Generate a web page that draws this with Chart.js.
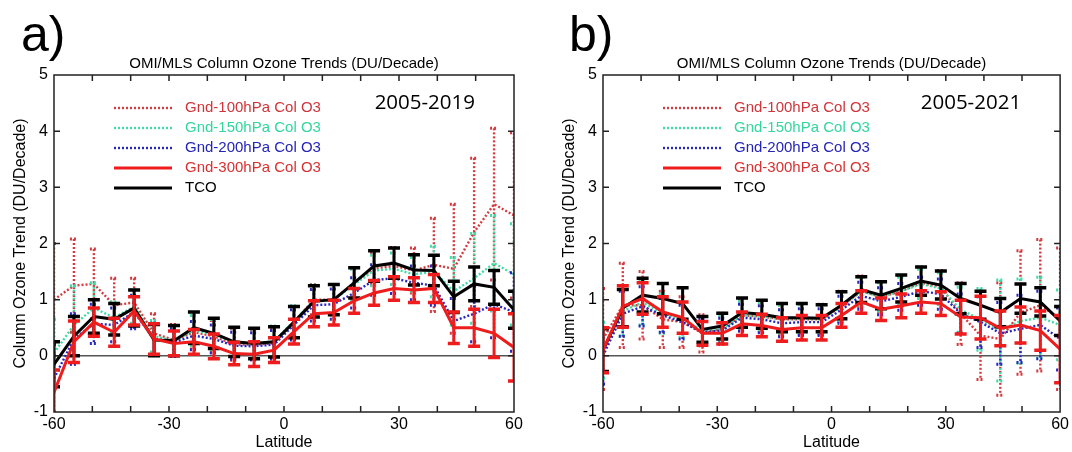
<!DOCTYPE html>
<html>
<head>
<meta charset="utf-8">
<script src="https://cdn.jsdelivr.net/npm/chart.js@4.4.1/dist/chart.umd.min.js"></script>
<style>
  body { margin: 0; background: #fff; width: 1072px; height: 452px; position: relative; overflow: hidden;
         font-family: "Liberation Sans", Arial, sans-serif; }
  .panel { position: absolute; top: 0; height: 452px; }
  .tag { position: absolute; top: 9px; font-size: 50px; line-height: 1; color: #000; }
</style>
</head>
<body>
<div class="tag" style="left:21px">a)</div>
<div class="tag" style="left:569px">b)</div>
<div class="panel" style="left:0;width:536px"><canvas id="chartA" width="536" height="452"></canvas></div>
<div class="panel" style="left:549px;width:523px"><canvas id="chartB" width="523" height="452"></canvas></div>
<script>
// latitude bin centres (deg)
const lat = [-60, -54.8, -49.6, -44.3, -39.1, -33.9, -28.7, -23.5, -18.3, -13.0, -7.8, -2.6,
             2.6, 7.8, 13.0, 18.3, 23.5, 28.7, 33.9, 39.1, 44.3, 49.6, 54.8, 60];
const latTicks = [-60, -30, 0, 30, 60];
const latMinorTicks = [-50, -40, -30, -20, -10, 0, 10, 20, 30, 40, 50];
const trendTicks = [-1, 0, 1, 2, 3, 4, 5];

const seriesNames = ["Gnd-100hPa Col O3", "Gnd-150hPa Col O3", "Gnd-200hPa Col O3", "Gnd-300hPa Col O3", "TCO"];

// 2005-2019 trends and 2-sigma errors (DU/decade)
const a100 = [1.00, 1.25, 1.28, 0.90, 0.95, 0.40, 0.28, 0.42, 0.35, 0.20, 0.20, 0.22, 0.60, 1.00, 1.00, 1.30, 1.55, 1.60, 1.52, 1.62, 1.55, 2.20, 2.70, 2.50];
const a100Err = [1.00, 0.83, 0.62, 0.48, 0.43, 0.35, 0.28, 0.30, 0.28, 0.28, 0.27, 0.28, 0.28, 0.27, 0.27, 0.27, 0.28, 0.33, 0.40, 0.83, 1.15, 1.32, 1.35, 1.47];
const a150 = [0.05, 0.55, 0.85, 0.68, 0.88, 0.35, 0.27, 0.45, 0.38, 0.24, 0.22, 0.26, 0.62, 0.98, 1.00, 1.27, 1.52, 1.55, 1.45, 1.50, 1.15, 1.38, 1.65, 1.45];
const a150Err = [0.60, 0.70, 0.45, 0.28, 0.30, 0.28, 0.27, 0.27, 0.27, 0.26, 0.26, 0.27, 0.27, 0.28, 0.27, 0.27, 0.27, 0.28, 0.30, 0.45, 0.60, 0.80, 0.85, 0.90];
const a200 = [-0.40, 0.30, 0.57, 0.55, 0.78, 0.30, 0.24, 0.36, 0.30, 0.18, 0.17, 0.20, 0.55, 0.90, 0.92, 1.12, 1.35, 1.38, 1.30, 1.25, 0.62, 0.75, 0.92, 0.78];
const a200Err = [0.60, 0.45, 0.35, 0.30, 0.30, 0.28, 0.25, 0.25, 0.25, 0.24, 0.24, 0.25, 0.27, 0.28, 0.27, 0.27, 0.27, 0.27, 0.30, 0.35, 0.40, 0.50, 0.60, 0.70];
const a300 = [-0.65, 0.25, 0.60, 0.42, 0.80, 0.30, 0.22, 0.25, 0.17, 0.04, 0.03, 0.10, 0.43, 0.75, 0.77, 0.98, 1.12, 1.20, 1.17, 1.20, 0.50, 0.50, 0.40, 0.15];
const a300Err = [0.40, 0.37, 0.25, 0.25, 0.25, 0.27, 0.22, 0.22, 0.22, 0.20, 0.22, 0.22, 0.22, 0.23, 0.22, 0.22, 0.22, 0.21, 0.22, 0.25, 0.28, 0.33, 0.43, 0.60];
const aTco = [-0.15, 0.35, 0.70, 0.65, 0.85, 0.28, 0.27, 0.50, 0.40, 0.25, 0.22, 0.25, 0.60, 0.97, 1.00, 1.30, 1.60, 1.65, 1.53, 1.52, 1.05, 1.28, 1.22, 0.82];
const aTcoErr = [0.40, 0.35, 0.30, 0.28, 0.32, 0.28, 0.27, 0.28, 0.27, 0.26, 0.27, 0.27, 0.28, 0.28, 0.27, 0.27, 0.27, 0.27, 0.27, 0.27, 0.28, 0.30, 0.30, 0.33];

// 2005-2021 trends and errors
const b100 = [0.30, 0.90, 0.90, 0.65, 0.60, 0.40, 0.48, 0.72, 0.70, 0.65, 0.65, 0.65, 0.88, 1.15, 1.05, 1.15, 1.30, 1.22, 0.75, 0.36, 0.30, 0.77, 0.90, 0.66];
const b100Err = [0.90, 0.75, 0.60, 0.50, 0.45, 0.33, 0.28, 0.28, 0.28, 0.28, 0.27, 0.27, 0.27, 0.27, 0.27, 0.27, 0.28, 0.30, 0.55, 0.78, 1.00, 1.10, 1.17, 1.26];
const b150 = [0.10, 0.80, 0.95, 0.75, 0.65, 0.45, 0.48, 0.72, 0.70, 0.65, 0.66, 0.65, 0.88, 1.15, 1.05, 1.15, 1.28, 1.20, 0.82, 0.65, 0.45, 0.62, 0.68, 0.55];
const b150Err = [0.50, 0.45, 0.40, 0.35, 0.32, 0.25, 0.24, 0.25, 0.25, 0.25, 0.25, 0.25, 0.25, 0.25, 0.25, 0.25, 0.26, 0.28, 0.40, 0.55, 0.90, 0.75, 0.72, 0.62];
const b200 = [0.00, 0.75, 0.88, 0.72, 0.60, 0.42, 0.45, 0.68, 0.65, 0.58, 0.60, 0.60, 0.82, 1.07, 0.97, 1.05, 1.15, 1.10, 0.75, 0.60, 0.40, 0.48, 0.55, 0.30];
const b200Err = [0.50, 0.40, 0.35, 0.30, 0.30, 0.24, 0.22, 0.24, 0.24, 0.24, 0.24, 0.24, 0.24, 0.24, 0.24, 0.24, 0.25, 0.27, 0.35, 0.45, 0.55, 0.60, 0.60, 0.55];
const b300 = [0.10, 0.88, 1.02, 0.78, 0.68, 0.40, 0.40, 0.57, 0.54, 0.47, 0.50, 0.50, 0.72, 0.96, 0.83, 0.89, 0.96, 0.93, 0.69, 0.68, 0.49, 0.55, 0.45, 0.12];
const b300Err = [0.40, 0.37, 0.28, 0.27, 0.28, 0.21, 0.19, 0.21, 0.20, 0.21, 0.22, 0.22, 0.21, 0.20, 0.20, 0.21, 0.20, 0.21, 0.30, 0.38, 0.31, 0.32, 0.35, 0.60];
const bTco = [0.10, 0.85, 1.08, 1.02, 0.93, 0.47, 0.53, 0.77, 0.74, 0.68, 0.68, 0.67, 0.90, 1.18, 1.08, 1.20, 1.33, 1.26, 1.02, 0.90, 0.77, 1.02, 0.96, 0.62];
const bTcoErr = [0.38, 0.33, 0.30, 0.27, 0.28, 0.23, 0.23, 0.26, 0.25, 0.25, 0.25, 0.24, 0.24, 0.23, 0.24, 0.24, 0.25, 0.25, 0.27, 0.25, 0.25, 0.26, 0.25, 0.26];

const styles = [
  { color: "#d43a3e", text: "#d0343a", dash: [2, 2], width: 2.4, cap: 8, order: 4 },
  { color: "#3edca6", text: "#33d69c", dash: [2, 2], width: 2.4, cap: 8, order: 3 },
  { color: "#2626c2", text: "#2424b8", dash: [2, 2], width: 2.4, cap: 8, order: 2 },
  { color: "#ee1c1c", text: "#d83030", dash: [], width: 3, cap: 12, order: 0 },
  { color: "#000000", text: "#000000", dash: [], width: 3, cap: 12, order: 1 },
];

const sans = '"Liberation Sans", Arial, sans-serif';

function buildDatasets(values, errors) {
  return values.map((vals, k) => ({
    label: seriesNames[k],
    data: lat.map((x, i) => ({ x, y: vals[i] })),
    errors: errors[k],
    borderColor: styles[k].color,
    borderWidth: styles[k].width,
    borderDash: styles[k].dash,
    pointRadius: 0,
    tension: 0,
    fill: false,
    order: styles[k].order,
  }));
}

const ozoneDecor = {
  id: "ozoneDecor",
  beforeDatasetsDraw(chart) {
    const { ctx, chartArea, scales } = chart;
    const y0 = scales.y.getPixelForValue(0);
    ctx.save();
    ctx.strokeStyle = "#555";
    ctx.lineWidth = 1.5;
    ctx.beginPath();
    ctx.moveTo(chartArea.left, y0);
    ctx.lineTo(chartArea.right, y0);
    ctx.stroke();
    ctx.restore();
  },
  afterDatasetDraw(chart, args) {
    const { ctx, chartArea, scales } = chart;
    const ds = chart.data.datasets[args.index];
    const st = styles[seriesNames.indexOf(ds.label)];
    ctx.save();
    ctx.beginPath();
    ctx.rect(chartArea.left, chartArea.top, chartArea.right - chartArea.left, chartArea.bottom - chartArea.top);
    ctx.clip();
    ctx.strokeStyle = st.color;
    ctx.setLineDash(st.dash);
    args.meta.data.forEach((pt, i) => {
      const v = ds.data[i].y, e = ds.errors[i];
      const top = scales.y.getPixelForValue(v + e);
      const bot = scales.y.getPixelForValue(v - e);
      ctx.lineWidth = st.width;
      ctx.beginPath();
      ctx.moveTo(pt.x, top);
      ctx.lineTo(pt.x, bot);
      ctx.stroke();
      ctx.lineWidth = st.dash.length ? 3 : 3.5;
      ctx.beginPath();
      ctx.moveTo(pt.x - st.cap / 2, top);
      ctx.lineTo(pt.x + st.cap / 2, top);
      ctx.moveTo(pt.x - st.cap / 2, bot);
      ctx.lineTo(pt.x + st.cap / 2, bot);
      ctx.stroke();
    });
    ctx.restore();
  },
  afterDraw(chart, args, opts) {
    const { ctx, chartArea: ca, scales } = chart;
    ctx.save();
    // frame
    ctx.strokeStyle = "#222";
    ctx.lineWidth = 1.5;
    ctx.strokeRect(ca.left, ca.top, ca.right - ca.left, ca.bottom - ca.top);
    // inward tick marks
    ctx.beginPath();
    latMinorTicks.forEach((v) => {
      const x = scales.x.getPixelForValue(v);
      ctx.moveTo(x, ca.top); ctx.lineTo(x, ca.top + 6);
      ctx.moveTo(x, ca.bottom); ctx.lineTo(x, ca.bottom - 6);
    });
    trendTicks.slice(1, -1).forEach((v) => {
      const y = scales.y.getPixelForValue(v);
      ctx.moveTo(ca.left, y); ctx.lineTo(ca.left + 6, y);
      ctx.moveTo(ca.right, y); ctx.lineTo(ca.right - 6, y);
    });
    ctx.stroke();
    // legend
    ctx.font = "15px " + sans;
    ctx.textBaseline = "middle";
    seriesNames.forEach((name, k) => {
      const y = ca.top + 33 + k * 20;
      const x0 = ca.left + 60;
      ctx.strokeStyle = styles[k].color;
      ctx.lineWidth = styles[k].width;
      ctx.setLineDash(styles[k].dash);
      ctx.beginPath();
      ctx.moveTo(x0, y);
      ctx.lineTo(x0 + 58, y);
      ctx.stroke();
      ctx.fillStyle = styles[k].text;
      ctx.fillText(name, x0 + 71, y);
    });
    ctx.setLineDash([]);
    // period label
    ctx.font = '20.5px "Open Sans", sans-serif';
    ctx.fillStyle = "#000";
    ctx.textAlign = "right";
    ctx.fillText(opts.period, ca.right - 39, ca.top + 28);
    ctx.restore();
  },
};

function makeChart(id, values, errors, period, padRight) {
  return new Chart(document.getElementById(id), {
    type: "line",
    data: { datasets: buildDatasets(values, errors) },
    plugins: [ozoneDecor],
    options: {
      responsive: false,
      animation: false,
      layout: { padding: { left: 0, right: padRight, top: 0, bottom: 0 } },
      scales: {
        x: {
          type: "linear",
          min: -60,
          max: 60,
          afterBuildTicks: (s) => { s.ticks = latTicks.map((value) => ({ value })); },
          afterFit: (s) => { s.height = 40; },
          grid: { display: false, drawTicks: false },
          border: { display: false },
          ticks: { color: "#000", padding: 3, maxRotation: 0, font: { size: 16, family: sans } },
          title: { display: true, text: "Latitude", color: "#000", padding: { top: 0, bottom: 0 },
                   font: { size: 16, family: sans } },
        },
        y: {
          min: -1,
          max: 5,
          afterBuildTicks: (s) => { s.ticks = trendTicks.map((value) => ({ value })); },
          afterFit: (s) => { s.width = 54; },
          grid: { display: false, drawTicks: false },
          border: { display: false },
          ticks: { color: "#000", padding: 6, font: { size: 16, family: sans } },
          title: { display: true, text: "Column Ozone Trend (DU/Decade)", color: "#000", padding: { top: 11, bottom: 0 },
                   font: { size: 16, family: sans } },
        },
      },
      plugins: {
        legend: { display: false },
        tooltip: { enabled: false },
        title: { display: true, fullSize: false, text: "OMI/MLS Column Ozone Trends (DU/Decade)", color: "#000",
                 padding: { top: 55, bottom: 2 }, font: { size: 15, weight: "normal", family: sans } },
        ozoneDecor: { period },
      },
    },
  });
}

makeChart("chartA", [a100, a150, a200, a300, aTco], [a100Err, a150Err, a200Err, a300Err, aTcoErr], "2005-2019", 22);
makeChart("chartB", [b100, b150, b200, b300, bTco], [b100Err, b150Err, b200Err, b300Err, bTcoErr], "2005-2021", 9);
</script>
</body>
</html>
